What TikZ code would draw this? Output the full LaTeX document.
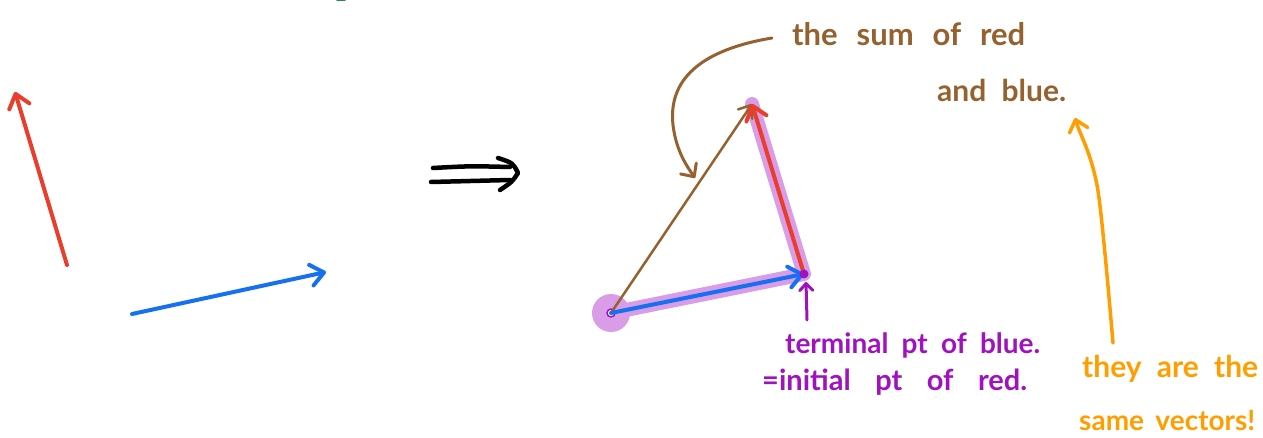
\documentclass[tikz,border=0pt]{standalone}
\usepackage{fontspec}
\setmainfont{Lato}
\usetikzlibrary{arrows.meta}

\definecolor{vecred}{HTML}{E93E2B}
\definecolor{vecblue}{HTML}{1670F0}
\definecolor{sumbrown}{HTML}{94612F}
\definecolor{notepurple}{HTML}{A012BE}
\definecolor{glowpurple}{HTML}{D99CE6}
\definecolor{noteorange}{HTML}{FF9E00}
\definecolor{inkgreen}{HTML}{1E8C4E}

\begin{document}
\begin{tikzpicture}[x=1pt, y=-1pt, line cap=round, line join=round,
    vec/.style={line width=4pt},
    hand/.style={-{Straight Barb[length=13pt,width=21pt,round]}},
    note/.style={inner sep=0pt, anchor=base west}]
  \useasboundingbox (0,0) rectangle (1263,438);
  % green ink at the top edge
  \draw[inkgreen, line width=3pt] (337,0) -- (345,0);
  % red vector
  \coordinate (redtail) at (67,265);
  \coordinate (redhead) at (15,92);
  \draw[vec, vecred, hand] (redtail) -- (redhead);
  % blue vector
  \coordinate (bluetail) at (132,314);
  \coordinate (bluehead) at (326,272);
  \draw[vec, vecblue, hand] (bluetail) -- (bluehead);
  % implies
  \draw[line width=4.5pt] (433,168) .. controls (470,166) .. (510,167);
  \draw[line width=4.5pt] (431,182) .. controls (470,181) .. (510,180);
  \draw[line width=4.5pt] (498,158) .. controls (513,163) .. (518,173)
    .. controls (512,182) .. (500,190);
  % triangle
  \coordinate (O) at (611,313);
  \coordinate (B) at (804,274);
  \coordinate (A) at (752,104);
  \fill[glowpurple] (O) circle (19pt);
  \draw[glowpurple, line width=14pt] (O) -- (B) -- (A);
  \fill[white] (O) circle (4pt);
  \draw[notepurple, line width=1.5pt] (O) circle (4pt);
  \draw[sumbrown, line width=2.5pt, -{Straight Barb[length=11pt,width=17pt,round]}] (O) -- (A);
  \draw[vec, vecblue, hand] (O) -- (B);
  \draw[vec, vecred, hand] (B) -- (A);
  \fill[notepurple] (B) circle (4.5pt);
  % pointer to B
  \coordinate (ptrtail) at (807,320);
  \draw[notepurple, line width=3pt, -{Straight Barb[length=7pt,width=13pt,round]}] (ptrtail) -- (806,282);
  % brown note
  \node[note, text=sumbrown, font=\fontsize{31}{33}\selectfont\bfseries] (sum1) at (792,46) {\makebox[233pt][s]{the sum of red}};
  \node[note, text=sumbrown, font=\fontsize{30}{32}\selectfont\bfseries] (sum2) at (937,102) {\makebox[129pt][s]{and blue.}};
  \draw[sumbrown, line width=3pt, -{Straight Barb[length=10pt,width=19pt,round]}]
    (772,38) .. controls (700,50) and (668,80) .. (673,125)
    .. controls (676,150) and (686,165) .. (695,178);
  % purple note
  \node[note, text=notepurple, font=\fontsize{28}{30}\selectfont\bfseries] (term) at (785,353) {\makebox[255pt][s]{terminal pt of blue.}};
  \node[note, text=notepurple, font=\fontsize{29}{31}\selectfont\bfseries] (init) at (762,390) {\makebox[265pt][s]{=initial pt of red.}};
  % orange note
  \node[note, text=noteorange, font=\fontsize{30}{32}\selectfont\bfseries] (same1) at (1082,377) {\makebox[176pt][s]{they are the}};
  \node[note, text=noteorange, font=\fontsize{28}{30}\selectfont\bfseries] (same2) at (1079,430) {\makebox[176pt][s]{same vectors!}};
  \draw[noteorange, line width=3.5pt, -{Straight Barb[length=11pt,width=19pt,round]}]
    (1113,343) .. controls (1105,250) and (1100,200) .. (1097,185)
    .. controls (1090,150) and (1080,135) .. (1075,118);
\end{tikzpicture}
\end{document}
